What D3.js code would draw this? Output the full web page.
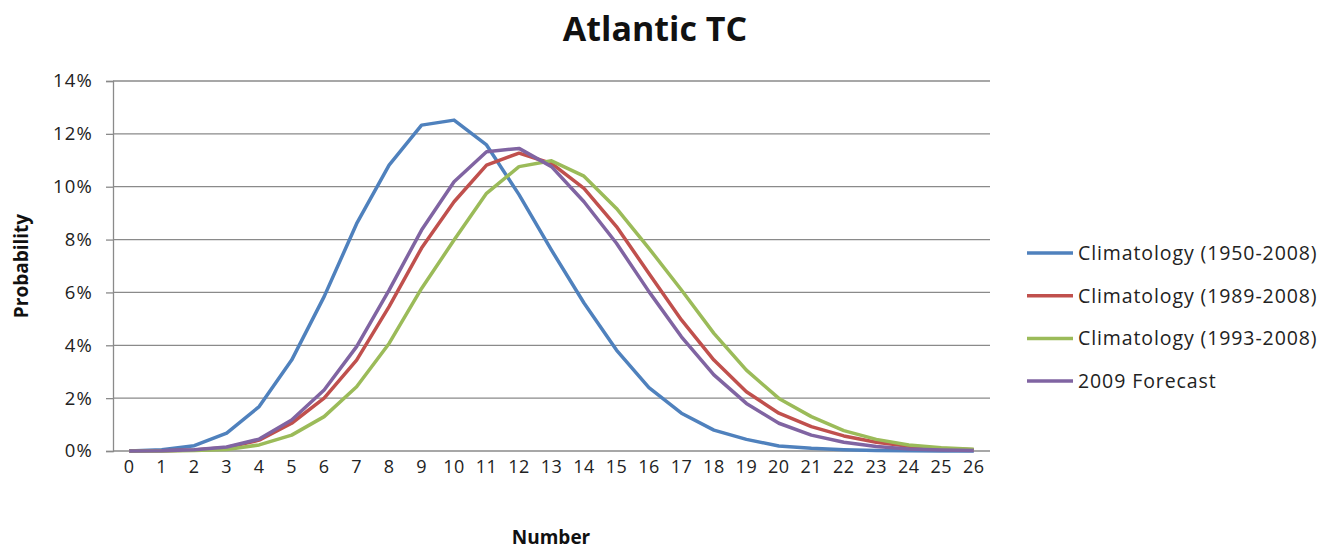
<!DOCTYPE html>
<html><head><meta charset="utf-8">
<script src="https://cdn.jsdelivr.net/npm/d3@7"></script>
<style>body{margin:0;background:#fff}svg{display:block}text{font-family:"Open Sans","DejaVu Sans",sans-serif}</style>
</head><body>
<svg id="c" width="1336" height="549"></svg>
<script>
const categories = d3.range(0, 27).map(String);
const yTicks = [0, 2, 4, 6, 8, 10, 12, 14];
const seriesNames = ["Climatology (1950-2008)", "Climatology (1989-2008)", "Climatology (1993-2008)", "2009 Forecast"];
const seriesColors = ["#4F81BD", "#C0504D", "#9BBB59", "#8064A2"];
const clim1950 = [0, 0.05, 0.2, 0.68, 1.68, 3.44, 5.84, 8.6, 10.82, 12.33, 12.52, 11.58, 9.7, 7.6, 5.6, 3.82, 2.4, 1.43, 0.79, 0.44, 0.19, 0.1, 0.05, 0.02, 0.01, 0, 0];
const clim1989 = [0, 0.01, 0.04, 0.13, 0.41, 1.05, 2.0, 3.44, 5.46, 7.68, 9.43, 10.82, 11.27, 10.88, 9.94, 8.49, 6.72, 4.96, 3.44, 2.24, 1.43, 0.92, 0.57, 0.33, 0.18, 0.09, 0.05];
const clim1993 = [0, 0.0, 0.02, 0.06, 0.23, 0.6, 1.3, 2.43, 4.07, 6.15, 7.98, 9.75, 10.76, 10.98, 10.4, 9.18, 7.67, 6.09, 4.45, 3.06, 1.99, 1.3, 0.77, 0.44, 0.23, 0.12, 0.07];
const forecast2009 = [0, 0.01, 0.05, 0.15, 0.45, 1.17, 2.31, 3.95, 6.09, 8.36, 10.19, 11.32, 11.45, 10.76, 9.43, 7.86, 6.03, 4.32, 2.88, 1.8, 1.05, 0.6, 0.33, 0.17, 0.08, 0.04, 0.02];
const seriesValues = [clim1950, clim1989, clim1993, forecast2009];

const svg = d3.select("#c");
const L = 113, R = 990, T = 81, B = 451;
const x = d3.scaleBand().domain(categories).range([L, R]);
const y = d3.scaleLinear().domain([0, 14]).range([B, T]);
const gridColor = "#8a8a8a";

// gridlines
svg.append("g").selectAll("line").data(yTicks).join("line")
  .attr("x1", L).attr("x2", R).attr("y1", d => y(d)).attr("y2", d => y(d))
  .attr("stroke", gridColor).attr("stroke-width", 1.3);

// y axis
const ya = svg.append("g").attr("transform", `translate(${L},0)`)
  .call(d3.axisLeft(y).tickValues(yTicks).tickFormat(d => d + "%").tickSize(7).tickPadding(13));
ya.select(".domain").attr("stroke", gridColor).attr("stroke-width", 1.3);
ya.selectAll(".tick line").attr("stroke", gridColor).attr("stroke-width", 1.3);
ya.selectAll("text").attr("font-size", 18.5).attr("letter-spacing", 1.2).attr("fill", "#222").attr("font-family", "'Open Sans',sans-serif");

// x axis
const xa = svg.append("g").attr("transform", `translate(0,${B})`)
  .call(d3.axisBottom(x).tickSize(0).tickPadding(9));
xa.select(".domain").remove();
xa.selectAll("text").attr("font-size", 18).attr("letter-spacing", 0.5).attr("fill", "#222").attr("font-family", "'Open Sans',sans-serif");

// lines
const line = d3.line().x((d, i) => x(categories[i]) + x.bandwidth() / 2).y(d => y(d));
svg.append("g").selectAll("path").data(seriesValues).join("path")
  .attr("d", d => line(d)).attr("fill", "none")
  .attr("stroke", (d, i) => seriesColors[i]).attr("stroke-width", 3.5)
  .attr("stroke-linejoin", "round");

// title
svg.append("text").attr("x", 655).attr("y", 41).attr("text-anchor", "middle")
  .attr("font-size", 34).attr("font-weight", "bold").attr("fill", "#111").text("Atlantic TC");

// axis titles
svg.append("text").attr("x", 551).attr("y", 544).attr("text-anchor", "middle")
  .attr("font-size", 19).attr("font-weight", "bold").attr("fill", "#111").text("Number");
svg.append("text").attr("transform", "translate(28,266) rotate(-90)").attr("text-anchor", "middle")
  .attr("font-size", 19).attr("font-weight", "bold").attr("fill", "#111").text("Probability");

// legend
const lg = svg.append("g").selectAll("g").data(seriesNames).join("g")
  .attr("transform", (d, i) => `translate(1027,${253 + i * 42.7})`);
lg.append("line").attr("x1", 0).attr("x2", 46).attr("y1", 0).attr("y2", 0)
  .attr("stroke", (d, i) => seriesColors[i]).attr("stroke-width", 3.5);
lg.append("text").attr("x", 51).attr("y", 0).attr("dy", "0.35em")
  .attr("font-size", 19.5).attr("letter-spacing", 0.9).attr("fill", "#222").text(d => d);
</script>
</body></html>
